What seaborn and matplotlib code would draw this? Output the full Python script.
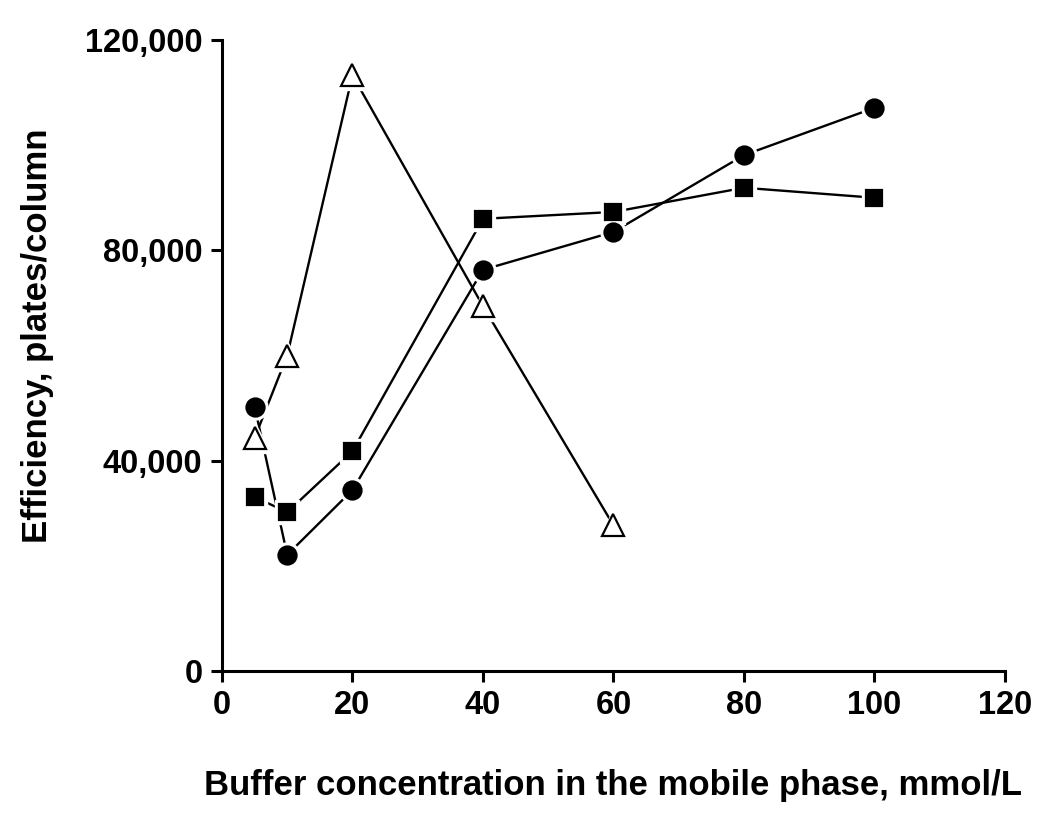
import matplotlib
matplotlib.use("Agg")
import matplotlib.pyplot as plt
import seaborn as sns
import pandas as pd
from matplotlib.ticker import FuncFormatter

sns.set_style("ticks")
plt.rcParams['font.family'] = ['Liberation Sans', 'DejaVu Sans']
plt.rcParams['font.weight'] = 'bold'
plt.rcParams['axes.labelcolor'] = 'black'
plt.rcParams['text.color'] = 'black'

x_circle = [5, 10, 20, 40, 60, 80, 100]
y_circle = [50300, 22100, 34400, 76300, 83500, 98100, 107100]

x_square = [5, 10, 20, 40, 60, 80, 100]
y_square = [33100, 30200, 41800, 86000, 87300, 91900, 90000]

x_triangle = [5, 10, 20, 40, 60]
y_triangle = [44300, 60000, 113300, 69400, 27700]

x_ticks = [0, 20, 40, 60, 80, 100, 120]
y_ticks = [0, 40000, 80000, 120000]

fig = plt.figure(figsize=(10.5, 8.18), dpi=100)
ax = fig.add_axes([0.2114, 0.1797, 0.7457, 0.7714])

series = [
    (x_circle, y_circle, 'o', 'black', 13),
    (x_square, y_square, 's', 'black', 12),
    (x_triangle, y_triangle, '^', 'none', 16),
]

for xs, ys, m, fc, ms in series:
    df = pd.DataFrame({'x': xs, 'y': ys})
    sns.lineplot(data=df, x='x', y='y', ax=ax, color='black', linewidth=1.7,
                 zorder=1, sort=False)
    # white halo to create small gap between line and marker
    ax.plot(xs, ys, linestyle='none', marker=m, markersize=ms + 5,
            markerfacecolor='white', markeredgecolor='white', zorder=2)
    ax.plot(xs, ys, linestyle='none', marker=m, markersize=ms,
            markerfacecolor=('white' if fc == 'none' else fc),
            markeredgecolor='black', markeredgewidth=1.6, zorder=3)

ax.set_xlim(0, 120)
ax.set_ylim(0, 120000)
ax.set_xticks(x_ticks)
ax.set_yticks(y_ticks)
ax.yaxis.set_major_formatter(FuncFormatter(lambda v, p: f"{int(v):,}"))

for s in ['top', 'right']:
    ax.spines[s].set_visible(False)
for s in ['left', 'bottom']:
    ax.spines[s].set_linewidth(2.2)
    ax.spines[s].set_color('black')

ax.tick_params(axis='both', direction='out', length=8, width=2.2,
               labelsize=23.5, colors='black', pad=6)
for lab in ax.get_xticklabels() + ax.get_yticklabels():
    lab.set_fontweight('bold')

ax.set_xlabel('Buffer concentration in the mobile phase, mmol/L',
              fontsize=25, fontweight='bold', labelpad=34)
ax.set_ylabel('Efficiency, plates/column', fontsize=25, fontweight='bold')
ax.yaxis.set_label_coords(-0.214, 0.532)

fig.savefig('out.png', dpi=100)
